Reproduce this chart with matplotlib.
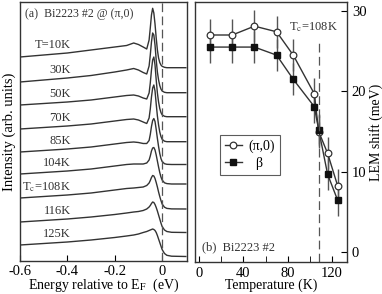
import numpy as np
import matplotlib
matplotlib.use('Agg')
import matplotlib.pyplot as plt

plt.rcParams['font.family'] = ['Liberation Serif', 'DejaVu Serif']
plt.rcParams['mathtext.fontset'] = 'stix'
plt.rcParams['axes.unicode_minus'] = False

# ---- panel (a): EDC spectra at (pi,0) ----
energy = [-0.6, -0.5, -0.4, -0.3, -0.2, -0.15, -0.12, -0.1, -0.08, -0.065,
          -0.055, -0.05, -0.045, -0.04, -0.035, -0.03, -0.025, -0.02, -0.015,
          -0.01, -0.005, 0.0, 0.01, 0.02, 0.04, 0.1]

edc_10K = [10.7, 12.7, 14.7, 17.7, 20.7, 22.2, 24.7, 23.2, 20.7, 18.7,
           27.7, 39.7, 52.7, 59.4, 54.7, 43.7, 29.7, 17.7, 9.7,
           5.2, 2.7, 1.4, 0.4, 0.0, 0.0, 0.0]
edc_30K = [10.7, 12.7, 14.7, 17.2, 20.7, 22.7, 24.2, 22.7, 20.2, 18.7,
           26.7, 37.7, 50.7, 59.7, 57.7, 47.7, 32.7, 20.7, 12.7,
           7.2, 3.7, 1.7, 0.4, 0.0, 0.0, 0.0]
edc_50K = [11.7, 13.2, 14.7, 16.7, 19.7, 21.2, 21.7, 20.7, 18.7, 17.7,
           23.7, 33.7, 46.7, 56.7, 59.7, 51.7, 36.7, 23.7, 14.7,
           8.2, 4.2, 1.9, 0.4, 0.0, 0.0, 0.0]
edc_70K = [12.7, 14.2, 15.7, 17.7, 20.7, 22.2, 22.7, 21.7, 19.7, 18.2,
           23.7, 32.7, 44.7, 53.7, 56.7, 50.7, 37.7, 25.7, 16.7,
           9.7, 5.2, 2.4, 0.5, 0.0, 0.0, 0.0]
edc_85K = [12.5, 14.0, 15.5, 17.5, 20.5, 22.0, 22.5, 22.0, 21.0, 21.0,
           24.0, 30.0, 38.0, 44.0, 46.0, 43.0, 35.0, 26.0, 18.0,
           11.0, 6.0, 3.0, 0.8, 0.2, 0.0, 0.0]
edc_104K = [10.0, 11.5, 13.0, 15.0, 18.0, 19.5, 20.0, 20.0, 20.0, 21.0,
            24.0, 28.0, 33.0, 36.0, 36.5, 34.0, 29.0, 23.0, 17.0,
            11.5, 7.0, 4.0, 1.2, 0.4, 0.0, 0.0]
edc_108K = [11.0, 12.5, 14.0, 16.0, 19.0, 20.5, 21.0, 21.5, 22.0, 23.5,
            26.0, 28.5, 31.5, 33.5, 33.0, 30.5, 26.5, 22.0, 17.0,
            12.5, 8.5, 5.0, 1.8, 0.6, 0.1, 0.0]
edc_116K = [10.5, 12.0, 13.5, 15.5, 18.0, 19.5, 20.5, 21.0, 22.0, 23.5,
            25.5, 27.0, 29.0, 30.5, 30.0, 28.0, 25.0, 21.5, 17.5,
            13.5, 9.5, 6.0, 2.5, 1.0, 0.2, 0.0]
edc_125K = [11.5, 13.0, 14.5, 16.5, 19.0, 20.5, 21.5, 22.5, 24.0, 25.0,
            26.0, 26.5, 27.0, 27.5, 27.0, 26.0, 24.0, 21.0, 17.5,
            14.0, 10.5, 7.0, 3.0, 1.2, 0.3, 0.0]

edcs = [edc_10K, edc_30K, edc_50K, edc_70K, edc_85K,
        edc_104K, edc_108K, edc_116K, edc_125K]
edc_offsets = [193.3, 168.3, 144.3, 119.3, 96.5, 77.0, 52.0, 28.5, 4.5]
edc_labels = ['T=10K', '30K', '50K', '70K', '85K', '104K',
              'T$_\\mathrm{c}$=108K', '116K', '125K']

# ---- panel (b): LEM shift vs temperature ----
temps = [10, 30, 50, 70, 85, 104, 108, 116, 125]
shift_pi0 = [27.0, 27.0, 28.1, 27.4, 24.5, 19.7, 15.0, 12.3, 8.3]
shift_beta = [25.5, 25.5, 25.5, 24.5, 21.5, 18.1, 15.2, 9.7, 6.5]
shift_err = [2.0, 2.0, 2.0, 2.0, 2.0, 2.0, 2.0, 2.0, 2.0]
tc = 108

ink = '#333333'

fig = plt.figure(figsize=(3.82, 2.94), dpi=100)
ax1 = fig.add_axes([20/382, 33/294, 167/382, 259/294])
ax2 = fig.add_axes([195/382, 32/294, 152/382, 260/294])

for edc, off, lab in zip(edcs, edc_offsets, edc_labels):
    ax1.plot(energy, np.array(edc) + off, color=ink, lw=1.0)
    ax1.text(-0.385, off + edc[2] + 8, lab, ha='right', va='center',
             fontsize=9, color=ink)

ax1.axvline(0, color='#555555', lw=0.9, ls=(0, (7, 3.5)))
ax1.set_xlim(-0.6, 0.105)
ax1.set_ylim(0, 259)
ax1.set_xticks([-0.6, -0.4, -0.2, 0])
ax1.set_xticklabels(['-0.6', '-0.4', '-0.2', '0'])
ax1.set_yticks([])
ax1.tick_params(axis='x', direction='in', length=4, labelsize=10.5, pad=3)
ax1.set_xlabel('Energy relative to E$_\\mathrm{F}$  (eV)', fontsize=10,
               labelpad=-1)
ax1.set_ylabel('Intensity (arb. units)', fontsize=10.5, labelpad=3)
ax1.text(0.03, 0.975, '(a)  Bi2223 #2 @ (π,0)', transform=ax1.transAxes,
         ha='left', va='top', fontsize=8.6, color=ink)

ax2.errorbar(temps, shift_pi0, yerr=shift_err, fmt='none', ecolor='#555555',
             elinewidth=1.0, capsize=0)
ax2.errorbar(temps, shift_beta, yerr=shift_err, fmt='none', ecolor='#555555',
             elinewidth=1.0, capsize=0)
ax2.plot(temps, shift_pi0, color=ink, lw=1.0, marker='o', ms=4.8,
         mfc='white', mec=ink, mew=0.9, label='(π,0)')
ax2.plot(temps, shift_beta, color=ink, lw=1.0, marker='s', ms=4.2,
         mfc='#111111', mec='#111111', label='  β')
ax2.plot([tc, tc], [-1.2, 26.4], color='#555555', lw=0.9, ls=(0, (7, 3.5)))
ax2.text(103, 28.0, 'T$_\\mathrm{c}$=108K', ha='center', va='center',
         fontsize=9, color=ink)
ax2.text(3, 0.6, '(b)  Bi2223 #2', ha='left', va='center', fontsize=9,
         color=ink)

ax2.set_xlim(-3.6, 133.5)
ax2.set_ylim(-1.2, 31.1)
ax2.set_xticks([0, 40, 80, 120])
ax2.set_xticks([20, 60, 100], minor=True)
ax2.set_yticks([0, 10, 20, 30])
ax2.yaxis.tick_right()
ax2.yaxis.set_label_position('right')
ax2.tick_params(axis='both', which='both', direction='in', labelsize=10.5)
ax2.tick_params(axis='both', which='major', length=4)
ax2.tick_params(axis='x', which='minor', length=4)
ax2.set_xlabel('Temperature (K)', fontsize=10, labelpad=-1)
ax2.set_ylabel('LEM shift (meV)', fontsize=10, labelpad=2)

leg = ax2.legend(loc='upper left', bbox_to_anchor=(0.165, 0.49),
                 fontsize=10, frameon=True, fancybox=False,
                 edgecolor=ink, handlelength=1.2, borderpad=0.35,
                 labelspacing=0.3, handletextpad=0.5, borderaxespad=0)
leg.get_frame().set_linewidth(0.8)

for ax in (ax1, ax2):
    for sp in ax.spines.values():
        sp.set_color(ink)
        sp.set_linewidth(1.0)

fig.savefig('out.png', dpi=100)
